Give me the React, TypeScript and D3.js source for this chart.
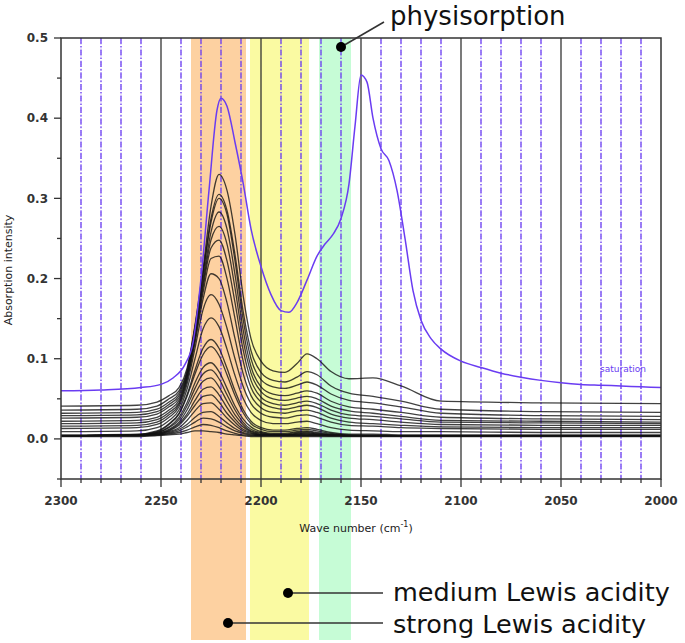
import React from 'react';
import * as d3 from 'd3';

// wavenumber grid for the adsorption spectra (cm-1)
const WAVES = [2300, 2262, 2252, 2246, 2241, 2237, 2233, 2229, 2225, 2221, 2217, 2213, 2209, 2205, 2200, 2194, 2188, 2182, 2177, 2172, 2165, 2156, 2144, 2130, 2110, 2060, 2000];

const CURVE_A = [0.041,0.042,0.046,0.054,0.064,0.088,0.142,0.212,0.29,0.33,0.31,0.255,0.18,0.125,0.097,0.085,0.083,0.094,0.106,0.1,0.084,0.075,0.076,0.066,0.047,0.045,0.044];
const CURVE_B = [0.036,0.037,0.041,0.05,0.06,0.085,0.14,0.207,0.275,0.305,0.285,0.23,0.16,0.11,0.083,0.073,0.071,0.077,0.084,0.08,0.066,0.057,0.053,0.047,0.037,0.034,0.033];
const CURVE_C = [0.032,0.033,0.037,0.046,0.057,0.083,0.138,0.205,0.27,0.3,0.28,0.222,0.15,0.1,0.074,0.065,0.063,0.067,0.071,0.067,0.056,0.048,0.045,0.04,0.032,0.029,0.028];
const CURVE_D = [0.029,0.03,0.034,0.043,0.054,0.081,0.134,0.198,0.258,0.283,0.262,0.205,0.137,0.09,0.065,0.056,0.054,0.057,0.06,0.057,0.047,0.04,0.037,0.033,0.027,0.025,0.024];
const CURVE_E = [0.026,0.027,0.031,0.04,0.051,0.079,0.13,0.193,0.248,0.265,0.243,0.188,0.124,0.082,0.059,0.05,0.048,0.051,0.053,0.05,0.041,0.035,0.032,0.028,0.023,0.022,0.021];
const CURVE_F = [0.022,0.023,0.027,0.036,0.048,0.077,0.127,0.188,0.238,0.248,0.222,0.17,0.112,0.073,0.052,0.044,0.042,0.045,0.047,0.044,0.036,0.03,0.028,0.025,0.021,0.02,0.019];
const CURVE_G = [0.019,0.02,0.024,0.033,0.045,0.075,0.124,0.182,0.225,0.228,0.2,0.15,0.098,0.064,0.046,0.039,0.037,0.04,0.042,0.039,0.031,0.026,0.024,0.021,0.018,0.017,0.017];
const CURVE_H = [0.016,0.017,0.021,0.03,0.043,0.072,0.12,0.174,0.206,0.2,0.17,0.125,0.082,0.054,0.039,0.033,0.032,0.035,0.036,0.033,0.026,0.021,0.019,0.017,0.015,0.014,0.014];
const CURVE_I = [0.013,0.014,0.018,0.027,0.04,0.068,0.113,0.161,0.18,0.168,0.138,0.1,0.066,0.044,0.032,0.027,0.026,0.029,0.03,0.027,0.021,0.017,0.016,0.014,0.013,0.012,0.012];
const CURVE_J = [0.009,0.01,0.014,0.023,0.036,0.062,0.1,0.137,0.151,0.14,0.112,0.079,0.051,0.033,0.023,0.019,0.019,0.021,0.022,0.019,0.014,0.011,0.01,0.009,0.009,0.008,0.008];
const CURVE_K = [0.005,0.006,0.01,0.019,0.032,0.055,0.086,0.113,0.124,0.113,0.088,0.06,0.037,0.022,0.014,0.011,0.011,0.013,0.014,0.012,0.008,0.006,0.006,0.005,0.005,0.005,0.005];
const CURVE_L = [0.004,0.005,0.009,0.018,0.031,0.053,0.081,0.105,0.115,0.104,0.08,0.054,0.033,0.019,0.012,0.009,0.009,0.011,0.012,0.01,0.007,0.005,0.005,0.004,0.004,0.004,0.004];
const CURVE_M = [0.004,0.005,0.008,0.015,0.027,0.045,0.07,0.089,0.095,0.084,0.063,0.041,0.025,0.015,0.009,0.007,0.007,0.009,0.01,0.008,0.006,0.005,0.004,0.004,0.004,0.004,0.004];
const CURVE_N = [0.004,0.005,0.008,0.014,0.024,0.041,0.063,0.081,0.086,0.075,0.055,0.036,0.021,0.012,0.008,0.006,0.006,0.008,0.009,0.007,0.005,0.004,0.004,0.004,0.004,0.004,0.004];
const CURVE_O = [0.004,0.005,0.007,0.012,0.021,0.036,0.056,0.072,0.076,0.065,0.047,0.03,0.018,0.01,0.007,0.005,0.005,0.007,0.008,0.006,0.005,0.004,0.004,0.004,0.004,0.004,0.004];
const CURVE_P = [0.004,0.005,0.007,0.011,0.019,0.031,0.048,0.062,0.065,0.055,0.039,0.025,0.015,0.009,0.006,0.005,0.005,0.006,0.007,0.006,0.005,0.004,0.004,0.004,0.004,0.004,0.004];
const CURVE_Q = [0.004,0.005,0.006,0.01,0.017,0.028,0.042,0.053,0.055,0.046,0.032,0.021,0.012,0.008,0.005,0.005,0.005,0.006,0.006,0.005,0.005,0.004,0.004,0.004,0.004,0.004,0.004];
const CURVE_R = [0.004,0.004,0.006,0.009,0.014,0.023,0.035,0.044,0.045,0.037,0.026,0.017,0.01,0.007,0.005,0.005,0.005,0.005,0.005,0.005,0.004,0.004,0.004,0.004,0.004,0.004,0.004];
const CURVE_S = [0.004,0.004,0.005,0.008,0.012,0.018,0.027,0.033,0.034,0.028,0.02,0.013,0.008,0.006,0.005,0.005,0.004,0.005,0.005,0.005,0.004,0.004,0.004,0.004,0.004,0.004,0.004];
const CURVE_T = [0.004,0.004,0.005,0.007,0.01,0.015,0.021,0.026,0.025,0.021,0.015,0.01,0.007,0.005,0.004,0.004,0.004,0.004,0.004,0.004,0.004,0.004,0.004,0.004,0.004,0.004,0.004];
const CURVE_U = [0.004,0.004,0.005,0.006,0.008,0.011,0.015,0.018,0.017,0.014,0.01,0.007,0.005,0.004,0.004,0.004,0.004,0.004,0.004,0.004,0.004,0.004,0.004,0.004,0.004,0.004,0.004];
const CURVE_V = [0.003,0.003,0.004,0.005,0.006,0.008,0.01,0.01,0.009,0.008,0.006,0.005,0.004,0.003,0.003,0.003,0.003,0.003,0.003,0.003,0.003,0.003,0.003,0.003,0.003,0.003,0.003];

const CURVES = [CURVE_A, CURVE_B, CURVE_C, CURVE_D, CURVE_E, CURVE_F, CURVE_G, CURVE_H, CURVE_I, CURVE_J, CURVE_K, CURVE_L, CURVE_M, CURVE_N, CURVE_O, CURVE_P, CURVE_Q, CURVE_R, CURVE_S, CURVE_T, CURVE_U, CURVE_V];

// saturation spectrum
const SAT_WAVES = [2300, 2280, 2260, 2250, 2244, 2238, 2234, 2230, 2226, 2222, 2220, 2217, 2213, 2209, 2205, 2200, 2195, 2190, 2186, 2182, 2177, 2172, 2168, 2164, 2160, 2156, 2153, 2150, 2147, 2144, 2140, 2136, 2132, 2128, 2124, 2120, 2115, 2110, 2100, 2090, 2080, 2070, 2060, 2050, 2040, 2030, 2020, 2010, 2000];
const SAT_VALUES = [0.060, 0.061, 0.064, 0.068, 0.076, 0.093, 0.12, 0.2, 0.31, 0.41, 0.425, 0.415, 0.37, 0.32, 0.262, 0.215, 0.18, 0.16, 0.158, 0.17, 0.198, 0.228, 0.243, 0.255, 0.275, 0.318, 0.39, 0.454, 0.445, 0.4, 0.362, 0.347, 0.31, 0.25, 0.185, 0.148, 0.125, 0.112, 0.097, 0.089, 0.082, 0.077, 0.073, 0.07, 0.068, 0.067, 0.066, 0.065, 0.064];

const X_TICKS = [2300, 2250, 2200, 2150, 2100, 2050, 2000];
const Y_TICKS = [0, 0.1, 0.2, 0.3, 0.4, 0.5];
const Y_MINOR = [-0.05, 0.05, 0.15, 0.25, 0.35, 0.45];

// acidity bands (wavenumber ranges)
const BAND_FROM = [2235, 2205.5, 2171];
const BAND_TO = [2207.5, 2176, 2155];
const BAND_COLORS = ['#fdd1a1', '#fafaa2', '#c6fcd6'];

const FONT = "'DejaVu Sans', Verdana, sans-serif";

export default function App() {
  const L = 61, R = 661, T = 38, B = 479;
  const x = d3.scaleLinear().domain([2300, 2000]).range([L, R]);
  const y = d3.scaleLinear().domain([-0.05, 0.5]).range([B, T]);
  const line = d3
    .line<[number, number]>()
    .x((d) => x(d[0]))
    .y((d) => y(d[1]))
    .curve(d3.curveMonotoneX);

  const minor = d3.range(2290, 2000, -10).filter((w) => w % 50 !== 0);
  const majorInner = X_TICKS.filter((w) => w !== 2300 && w !== 2000);
  const purple = '#6a3cf2';

  return (
    <svg width={685} height={643} style={{ position: 'absolute', left: 0, top: 0, background: '#fff' }}>
      {BAND_FROM.map((f, i) => (
        <rect key={'b' + i} x={x(f)} y={T} width={x(BAND_TO[i]) - x(f)} height={640 - T} fill={BAND_COLORS[i]} />
      ))}
      {minor.map((w) => (
        <g key={'m' + w}>
          <line x1={x(w)} x2={x(w)} y1={T} y2={B} stroke={purple} strokeWidth={0.6} strokeOpacity={0.45} strokeDasharray="1,1" />
          <line x1={x(w)} x2={x(w)} y1={T} y2={B} stroke={purple} strokeWidth={1.3} strokeDasharray="6,2,1.5,2" />
        </g>
      ))}
      {majorInner.map((w) => (
        <line key={'M' + w} x1={x(w)} x2={x(w)} y1={T} y2={B} stroke="#333" strokeWidth={1.3} />
      ))}
      {CURVES.map((c, i) => (
        <path
          key={'c' + i}
          d={line(WAVES.map((w, j) => [w, c[j]]) as [number, number][]) || ''}
          fill="none"
          stroke="#111"
          strokeOpacity={0.8}
          strokeWidth={1.3}
        />
      ))}
      <path
        d={line(SAT_WAVES.map((w, j) => [w, SAT_VALUES[j]]) as [number, number][]) || ''}
        fill="none"
        stroke={purple}
        strokeWidth={1.5}
      />
      <text x={x(2019)} y={y(0.083)} fontFamily={FONT} fontSize={9} fill={purple} textAnchor="middle">
        saturation
      </text>
      {/* frame */}
      <rect x={L} y={T} width={R - L} height={B - T} fill="none" stroke="#333" strokeWidth={1.5} />
      {/* y ticks */}
      {Y_TICKS.map((t) => (
        <g key={'y' + t}>
          <line x1={L - 7} x2={L} y1={y(t)} y2={y(t)} stroke="#333" strokeWidth={1.3} />
          <text x={L - 13} y={y(t)} dy="0.35em" textAnchor="end" fontFamily={FONT} fontSize={12} fontWeight="bold" fill="#333">
            {t.toFixed(1)}
          </text>
        </g>
      ))}
      {Y_MINOR.map((t) => (
        <line key={'ym' + t} x1={L - 4} x2={L} y1={y(t)} y2={y(t)} stroke="#333" strokeWidth={1.3} />
      ))}
      {/* x ticks */}
      {X_TICKS.map((t) => (
        <g key={'x' + t}>
          <line x1={x(t)} x2={x(t)} y1={B} y2={B + 8} stroke="#333" strokeWidth={1.3} />
          <text x={x(t)} y={B + 26} textAnchor="middle" fontFamily={FONT} fontSize={12} fontWeight="bold" fill="#333">
            {t}
          </text>
        </g>
      ))}
      {minor.map((t) => (
        <line key={'xm' + t} x1={x(t)} x2={x(t)} y1={B} y2={B + 4} stroke="#333" strokeWidth={1.3} />
      ))}
      <text x={356} y={532} textAnchor="middle" fontFamily={FONT} fontSize={11} fill="#222">
        Wave number (cm<tspan dy={-5} fontSize={8}>-1</tspan><tspan dy={5}>)</tspan>
      </text>
      <text transform="translate(12,270) rotate(-90)" textAnchor="middle" fontFamily={FONT} fontSize={11} fill="#222">
        Absorption intensity
      </text>
      {/* annotations */}
      <line x1={341} y1={47} x2={384} y2={22} stroke="#333" strokeWidth={1.6} />
      <circle cx={341} cy={47} r={5} fill="#000" />
      <text x={390} y={25} fontFamily={FONT} fontSize={26} fill="#111">physisorption</text>

      <line x1={288} y1={593} x2={383} y2={593} stroke="#333" strokeWidth={1.6} />
      <circle cx={288} cy={593} r={5} fill="#000" />
      <text x={393} y={601} fontFamily={FONT} fontSize={25.5} fill="#111">medium Lewis acidity</text>

      <line x1={228} y1={623} x2={383} y2={623} stroke="#333" strokeWidth={1.6} />
      <circle cx={228} cy={623} r={5} fill="#000" />
      <text x={393} y={633} fontFamily={FONT} fontSize={25.5} fill="#111">strong Lewis acidity</text>
    </svg>
  );
}
